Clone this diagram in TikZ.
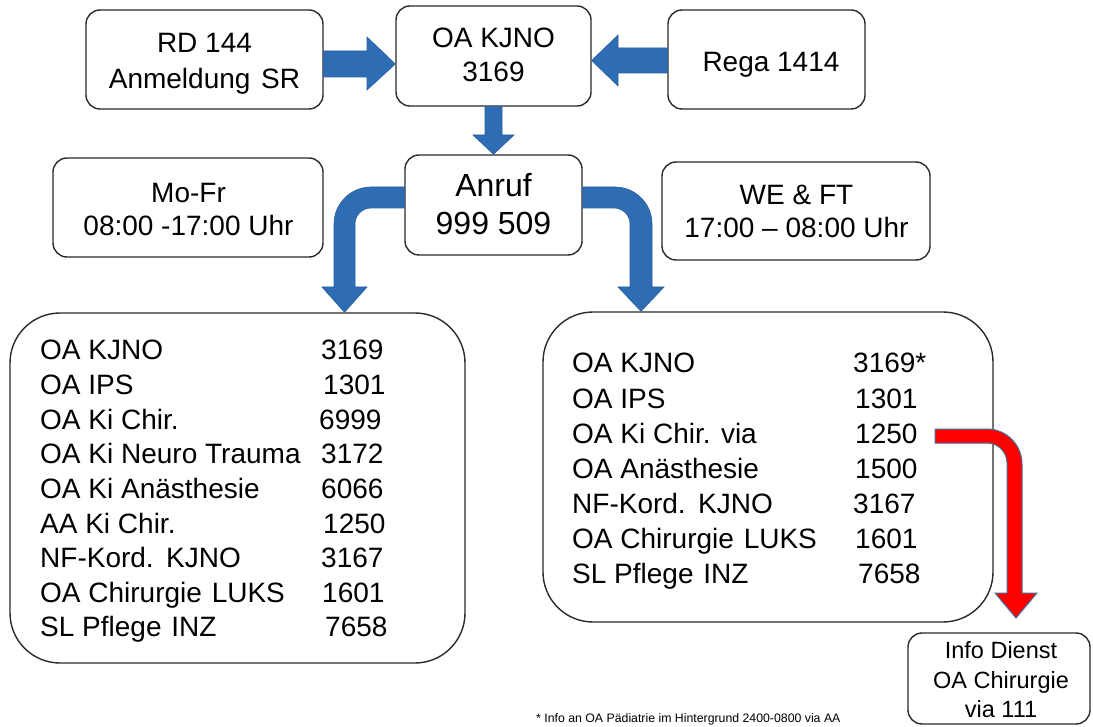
\documentclass[tikz,border=0pt]{standalone}
\usepackage{fontspec}
\setmainfont{Liberation Sans}
\definecolor{boxline}{HTML}{2B2B2B}
\definecolor{arrowblue}{HTML}{2E6DB4}
\definecolor{arrowblueline}{HTML}{2A5F9E}
\definecolor{redline}{HTML}{41719C}
\begin{document}
\begin{tikzpicture}[x=1pt,y=-1pt,
  box/.style={draw=boxline, line width=1.4pt, rounded corners=14pt, inner sep=0pt},
  bigbox/.style={draw=boxline, line width=1.4pt, rounded corners=50pt, inner sep=0pt},
  txt/.style={anchor=base, inner sep=0pt, font=\fontsize{28}{34}\selectfont},
  bigtxt/.style={anchor=base, inner sep=0pt, font=\fontsize{32}{38}\selectfont},
  lst/.style={anchor=base west, inner sep=0pt, font=\fontsize{28}{34}\selectfont},
  infotxt/.style={anchor=base, inner sep=0pt, font=\fontsize{23.5}{28}\selectfont},
  barrow/.style={fill=arrowblue, draw=arrowblueline, line width=0.6pt, line join=miter},
  rarrow/.style={fill=red, draw=redline, line width=1pt, line join=miter}
]
\fill[white] (0,0) rectangle (1093,727);
\useasboundingbox (0,0) rectangle (1093,727);

% boxes
\node[box, minimum width=237pt, minimum height=99pt] (rd) at (204.5,59.5) {};
\node[box, minimum width=195pt, minimum height=100pt] (oa) at (493.5,56) {};
\node[box, minimum width=197pt, minimum height=99pt] (rega) at (766.5,59.5) {};
\node[box, minimum width=177pt, minimum height=100pt] (anruf) at (493.5,205) {};
\node[box, minimum width=270pt, minimum height=99pt] (mofr) at (188,207.5) {};
\node[box, minimum width=268pt, minimum height=98pt] (we) at (796,211) {};
\node[bigbox, minimum width=455pt, minimum height=350pt] (leftlist) at (237.5,488) {};
\node[bigbox, minimum width=450pt, minimum height=310pt] (rightlist) at (768,467) {};
\node[box, minimum width=182pt, minimum height=91pt] (info) at (999,678.5) {};

% box texts
\node[txt] (rdA) at (204.5,53) {RD 144};
\node[txt] (rdB) at (204.5,89) {Anmeldung\hspace{3pt} SR};
\node[txt] (oaA) at (493.5,48) {OA KJNO};
\node[txt] (oaB) at (493.5,82) {3169};
\node[txt] (regaA) at (771,72) {Rega 1414};
\node[bigtxt] (anrufA) at (493.5,197) {Anruf};
\node[bigtxt] (anrufB) at (493.5,235) {999 509};
\node[txt] (mofrA) at (188.5,203) {Mo-Fr};
\node[txt] (mofrB) at (188.5,236) {08:00 -17:00 Uhr};
\node[txt] (weA) at (796.5,205) {WE \& FT};
\node[txt] (weB) at (796.5,238) {17:00 – 08:00 Uhr};
\node[infotxt] (infoA) at (1001,658) {Info Dienst};
\node[infotxt] (infoB) at (1001,688) {OA Chirurgie};
\node[infotxt] (infoC) at (1001,717) {via 111};

% left list
\foreach \lab/\num/\nx [count=\i from 0] in {OA KJNO/3169/321, OA IPS/1301/323, OA Ki Chir./6999/319, OA Ki Neuro Trauma/3172/321, OA Ki Anästhesie/6066/321, AA Ki Chir./1250/323, NF-Kord.\hspace{2pt} KJNO/3167/321, OA Chirurgie\hspace{2pt} LUKS/1601/322, SL Pflege\hspace{2pt} INZ/7658/325}{
  \node[lst] (ll\i) at (40,360+34.6*\i) {\lab};
  \node[lst] (ln\i) at (\nx,360+34.6*\i) {\num};
}
% right list
\foreach \lab/\num/\nx [count=\i from 0] in {OA KJNO/3169*/853, OA IPS/1301/855, OA Ki Chir. via/1250/855, OA Anästhesie/1500/855, NF-Kord.\hspace{2pt} KJNO/3167/853, OA Chirurgie\hspace{2pt} LUKS/1601/855, SL Pflege\hspace{2pt} INZ/7658/858}{
  \node[lst] (rl\i) at (572,373+35*\i) {\lab};
  \node[lst] (rn\i) at (\nx,373+35*\i) {\num};
}

% footnote
\node[anchor=base west, inner sep=0pt, font=\fontsize{12.3}{14}\selectfont] (foot) at (536,722) {* Info an OA Pädiatrie im Hintergrund 2400-0800 via AA};

% straight block arrows
\draw[barrow] (rd.east |- 0,51) -- (367,51) -- (367,37) -- (oa.west |- 0,64) -- (367,90) -- (367,77) -- (rd.east |- 0,77) -- cycle;
\draw[barrow] (rega.west |- 0,48) -- (618,48) -- (618,35) -- (oa.east |- 0,60.5) -- (618,86) -- (618,73) -- (rega.west |- 0,73) -- cycle;
\draw[barrow] (485,0 |- oa.south) -- (485,135) -- (473,135) -- (493.5,0 |- anruf.north) -- (514,135) -- (502,135) -- (502,0 |- oa.south) -- cycle;

% curved blue arrows
\draw[barrow] (anruf.west |- 0,187) -- (371,187) .. controls (350.6,187) and (334,203.6) .. (334,224)
  -- (334,287) -- (322,287) -- (344.5,0 |- leftlist.north) -- (367,287) -- (355,287) -- (355,224)
  .. controls (355,215.2) and (362.2,208) .. (371,208) -- (anruf.west |- 0,208) -- cycle;
\draw[barrow] (anruf.east |- 0,187) -- (615,187) .. controls (635.4,187) and (652,203.6) .. (652,224)
  -- (652,287) -- (664,287) -- (641,0 |- rightlist.north) -- (618,287) -- (630,287) -- (630,224)
  .. controls (630,215.2) and (622.8,208) .. (614,208) -- (anruf.east |- 0,208) -- cycle;

% red arrow
\coordinate (redstart) at (935,436);
\draw[rarrow] (redstart |- 0,429) -- (987,429) .. controls (1006.3,429) and (1022,444.7) .. (1022,464)
  -- (1022,593) -- (1037,593) -- (1016,618) -- (995,593) -- (1007,593) -- (1007,463)
  .. controls (1007,452) and (998,443) .. (987,443) -- (redstart |- 0,443) -- cycle;
\end{tikzpicture}
\end{document}
